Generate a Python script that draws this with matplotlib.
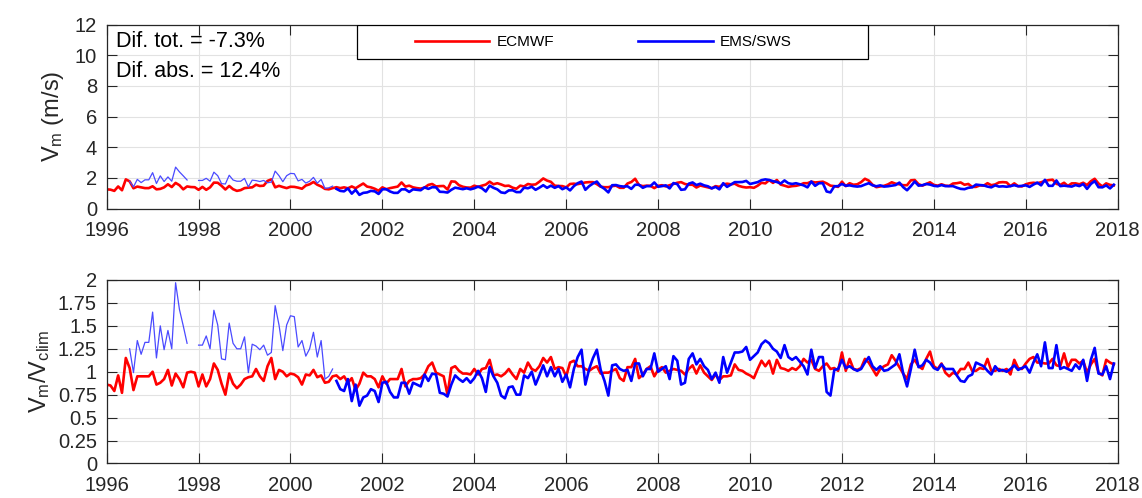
#!/usr/bin/env python3
import numpy as np
import matplotlib

matplotlib.use("Agg")
import matplotlib.pyplot as plt  # type: ignore
from matplotlib.patches import Rectangle  # type: ignore

plt.rcParams["font.family"] = ["Liberation Sans", "DejaVu Sans"]
plt.rcParams["mathtext.fontset"] = "custom"
plt.rcParams["mathtext.rm"] = "Liberation Sans"

nan = np.nan

# monthly series, Jan 1996 - Dec 2017 (one row per year)
ecmwf_vm = [
    1.25, 1.23, 1.15, 1.44, 1.19, 1.90, 1.77, 1.32, 1.43, 1.38, 1.33, 1.33,
    1.45, 1.25, 1.28, 1.38, 1.58, 1.40, 1.67, 1.52, 1.25, 1.44, 1.40, 1.39,
    1.22, 1.41, 1.22, 1.38, 1.69, 1.68, 1.48, 1.24, 1.47, 1.26, 1.15, 1.20,
    1.33, 1.36, 1.38, 1.55, 1.47, 1.49, 1.80, 1.90, 1.38, 1.48, 1.40, 1.33,
    1.42, 1.41, 1.36, 1.29, 1.50, 1.58, 1.73, 1.55, 1.44, 1.28, 1.25, 1.33,
    1.39, 1.33, 1.38, 1.32, 1.44, 1.32, 1.48, 1.63, 1.43, 1.38, 1.29, 1.16,
    1.38, 1.26, 1.33, 1.38, 1.43, 1.70, 1.43, 1.49, 1.38, 1.33, 1.30, 1.36,
    1.54, 1.60, 1.44, 1.46, 1.47, 1.24, 1.77, 1.75, 1.52, 1.42, 1.37, 1.36,
    1.49, 1.41, 1.49, 1.56, 1.75, 1.58, 1.65, 1.57, 1.47, 1.49, 1.36, 1.29,
    1.49, 1.44, 1.60, 1.55, 1.57, 1.75, 1.96, 1.82, 1.74, 1.49, 1.47, 1.46,
    1.38, 1.60, 1.62, 1.59, 1.64, 1.70, 1.72, 1.72, 1.59, 1.42, 1.39, 1.39,
    1.46, 1.49, 1.35, 1.35, 1.63, 1.73, 1.94, 1.53, 1.46, 1.49, 1.48, 1.33,
    1.48, 1.52, 1.44, 1.52, 1.60, 1.68, 1.72, 1.60, 1.55, 1.55, 1.37, 1.50,
    1.44, 1.38, 1.32, 1.46, 1.41, 1.57, 1.62, 1.58, 1.62, 1.48, 1.41, 1.37,
    1.39, 1.35, 1.49, 1.68, 1.64, 1.85, 1.67, 1.86, 1.56, 1.49, 1.41, 1.46,
    1.48, 1.54, 1.65, 1.65, 1.75, 1.70, 1.72, 1.75, 1.64, 1.49, 1.46, 1.41,
    1.75, 1.46, 1.65, 1.55, 1.58, 1.72, 1.94, 1.82, 1.55, 1.39, 1.44, 1.48,
    1.57, 1.71, 1.62, 1.58, 1.52, 1.52, 1.84, 1.86, 1.59, 1.49, 1.60, 1.71,
    1.54, 1.49, 1.58, 1.49, 1.47, 1.63, 1.65, 1.70, 1.55, 1.60, 1.41, 1.41,
    1.51, 1.49, 1.65, 1.52, 1.57, 1.70, 1.72, 1.70, 1.46, 1.64, 1.46, 1.44,
    1.58, 1.65, 1.68, 1.65, 1.71, 1.80, 1.85, 1.88, 1.61, 1.54, 1.68, 1.47,
    1.64, 1.64, 1.58, 1.68, 1.53, 1.78, 1.94, 1.63, 1.44, 1.64, 1.54, 1.51,
]

ems_vm = [
    nan, nan, nan, nan, nan, nan, 1.78, 1.41, 1.90, 1.69, 1.87, 1.87,
    2.34, 1.63, 2.13, 1.76, 2.06, 1.78, 2.70, 2.39, 2.13, 1.86, nan, nan,
    1.83, 1.83, 1.97, 1.78, 2.37, 2.14, 1.62, 1.60, 2.17, 1.86, 1.78, 1.78,
    1.96, 1.41, 1.85, 1.82, 1.76, 1.83, 1.68, 1.72, 2.44, 2.14, 1.75, 2.14,
    2.29, 2.27, 1.80, 1.90, 1.66, 1.78, 2.03, 1.65, 1.90, 1.31, 1.35, 1.46,
    1.28, 1.15, 1.12, 1.31, 0.97, 1.22, 0.89, 1.02, 1.05, 1.15, 1.12, 0.95,
    1.25, 1.26, 1.11, 1.02, 1.02, 1.25, 1.25, 1.08, 1.25, 1.22, 1.19, 1.38,
    1.28, 1.39, 1.38, 1.09, 1.08, 1.04, 1.22, 1.36, 1.31, 1.26, 1.32, 1.25,
    1.32, 1.43, 1.32, 1.11, 1.49, 1.35, 1.25, 1.05, 1.01, 1.18, 1.19, 1.07,
    1.07, 1.36, 1.32, 1.42, 1.22, 1.36, 1.52, 1.35, 1.49, 1.35, 1.46, 1.26,
    1.38, 1.18, 1.46, 1.65, 1.76, 1.22, 1.46, 1.63, 1.76, 1.45, 1.28, 1.05,
    1.52, 1.53, 1.46, 1.43, 1.45, 1.28, 1.55, 1.55, 1.35, 1.46, 1.46, 1.70,
    1.42, 1.46, 1.51, 1.31, 1.66, 1.59, 1.22, 1.25, 1.62, 1.70, 1.53, 1.62,
    1.51, 1.45, 1.31, 1.41, 1.25, 1.65, 1.41, 1.56, 1.72, 1.72, 1.73, 1.80,
    1.60, 1.66, 1.72, 1.85, 1.90, 1.86, 1.78, 1.73, 1.63, 1.83, 1.65, 1.60,
    1.65, 1.58, 1.51, 1.38, 1.76, 1.48, 1.65, 1.65, 1.11, 1.05, 1.45, 1.46,
    1.60, 1.48, 1.51, 1.46, 1.43, 1.46, 1.56, 1.65, 1.51, 1.45, 1.51, 1.43,
    1.45, 1.49, 1.53, 1.69, 1.39, 1.19, 1.46, 1.76, 1.49, 1.52, 1.60, 1.56,
    1.48, 1.45, 1.53, 1.46, 1.46, 1.46, 1.36, 1.28, 1.26, 1.35, 1.38, 1.56,
    1.53, 1.51, 1.43, 1.38, 1.51, 1.43, 1.45, 1.42, 1.46, 1.52, 1.45, 1.48,
    1.51, 1.41, 1.56, 1.69, 1.51, 1.87, 1.48, 1.48, 1.83, 1.46, 1.49, 1.46,
    1.43, 1.53, 1.46, 1.60, 1.28, 1.60, 1.79, 1.39, 1.38, 1.51, 1.31, 1.55,
]

ecmwf_ratio = [
    0.86, 0.85, 0.79, 0.96, 0.77, 1.15, 1.04, 0.80, 0.95, 0.95, 0.95, 0.95,
    1.00, 0.86, 0.88, 0.92, 1.02, 0.85, 0.98, 0.92, 0.83, 0.99, 1.00, 0.99,
    0.84, 0.97, 0.84, 0.92, 1.09, 1.02, 0.87, 0.75, 0.98, 0.87, 0.82, 0.86,
    0.92, 0.94, 0.95, 1.03, 0.95, 0.90, 1.06, 1.15, 0.92, 1.02, 1.00, 0.95,
    0.98, 0.97, 0.94, 0.86, 0.97, 0.96, 1.02, 0.94, 0.96, 0.88, 0.89, 0.95,
    0.96, 0.92, 0.95, 0.88, 0.93, 0.80, 0.87, 0.99, 0.95, 0.95, 0.92, 0.83,
    0.95, 0.87, 0.92, 0.92, 0.92, 1.03, 0.84, 0.90, 0.92, 0.92, 0.93, 0.97,
    1.06, 1.10, 0.99, 0.97, 0.95, 0.75, 1.04, 1.06, 1.01, 0.98, 0.98, 0.97,
    1.03, 0.97, 1.03, 1.04, 1.13, 0.96, 0.97, 0.95, 0.98, 1.03, 0.97, 0.92,
    1.03, 0.99, 1.10, 1.03, 1.01, 1.06, 1.15, 1.10, 1.16, 1.03, 1.05, 1.04,
    0.95, 1.10, 1.12, 1.06, 1.06, 1.03, 1.01, 1.04, 1.06, 0.98, 0.99, 0.99,
    1.01, 1.03, 0.93, 0.90, 1.05, 1.05, 1.14, 0.93, 0.97, 1.03, 1.06, 0.95,
    1.02, 1.05, 0.99, 1.01, 1.03, 1.02, 1.01, 0.97, 1.03, 1.07, 0.98, 1.07,
    0.99, 0.95, 0.91, 0.97, 0.91, 0.95, 0.95, 0.96, 1.08, 1.02, 1.01, 0.98,
    0.96, 0.93, 1.03, 1.12, 1.06, 1.12, 0.98, 1.13, 1.04, 1.03, 1.01, 1.04,
    1.02, 1.06, 1.14, 1.10, 1.13, 1.03, 1.01, 1.06, 1.09, 1.03, 1.04, 1.01,
    1.21, 1.01, 1.14, 1.03, 1.02, 1.04, 1.14, 1.10, 1.03, 0.96, 1.03, 1.06,
    1.08, 1.18, 1.12, 1.05, 0.98, 0.92, 1.08, 1.13, 1.06, 1.03, 1.14, 1.22,
    1.06, 1.03, 1.09, 0.99, 0.95, 0.99, 0.97, 1.03, 1.03, 1.10, 1.01, 1.01,
    1.04, 1.03, 1.14, 1.01, 1.01, 1.03, 1.01, 1.03, 0.97, 1.13, 1.04, 1.03,
    1.09, 1.14, 1.16, 1.10, 1.10, 1.09, 1.09, 1.14, 1.07, 1.06, 1.20, 1.05,
    1.13, 1.13, 1.09, 1.12, 0.99, 1.08, 1.14, 0.99, 0.96, 1.13, 1.10, 1.08,
]

ems_ratio = [
    nan, nan, nan, nan, nan, nan, 1.25, 0.99, 1.34, 1.19, 1.32, 1.32,
    1.65, 1.15, 1.50, 1.24, 1.45, 1.25, 1.97, 1.68, 1.50, 1.31, nan, nan,
    1.29, 1.29, 1.39, 1.25, 1.67, 1.51, 1.14, 1.13, 1.53, 1.31, 1.25, 1.25,
    1.38, 0.99, 1.30, 1.28, 1.24, 1.29, 1.18, 1.21, 1.72, 1.51, 1.23, 1.51,
    1.61, 1.60, 1.27, 1.34, 1.17, 1.25, 1.43, 1.16, 1.34, 0.92, 0.95, 1.03,
    0.90, 0.81, 0.79, 0.92, 0.68, 0.86, 0.63, 0.72, 0.74, 0.81, 0.79, 0.67,
    0.88, 0.89, 0.78, 0.72, 0.72, 0.88, 0.88, 0.76, 0.88, 0.86, 0.84, 0.97,
    0.90, 0.98, 0.97, 0.77, 0.76, 0.73, 0.86, 0.96, 0.92, 0.89, 0.93, 0.88,
    0.93, 1.01, 0.93, 0.78, 1.05, 0.95, 0.88, 0.74, 0.71, 0.83, 0.84, 0.75,
    0.75, 0.96, 0.93, 1.00, 0.86, 0.96, 1.07, 0.95, 1.05, 0.95, 1.03, 0.89,
    0.97, 0.83, 1.03, 1.16, 1.24, 0.86, 1.03, 1.15, 1.24, 1.02, 0.90, 0.74,
    1.07, 1.08, 1.03, 1.01, 1.02, 0.90, 1.09, 1.09, 0.95, 1.03, 1.03, 1.20,
    1.00, 1.03, 1.06, 0.92, 1.17, 1.12, 0.86, 0.88, 1.14, 1.20, 1.08, 1.14,
    1.06, 1.02, 0.92, 0.99, 0.88, 1.16, 0.99, 1.10, 1.21, 1.21, 1.22, 1.27,
    1.13, 1.17, 1.21, 1.30, 1.34, 1.31, 1.25, 1.22, 1.15, 1.29, 1.16, 1.13,
    1.16, 1.11, 1.06, 0.97, 1.24, 1.04, 1.16, 1.16, 0.78, 0.74, 1.02, 1.03,
    1.13, 1.04, 1.06, 1.03, 1.01, 1.03, 1.10, 1.16, 1.06, 1.02, 1.06, 1.01,
    1.02, 1.05, 1.08, 1.19, 0.98, 0.84, 1.03, 1.24, 1.05, 1.07, 1.13, 1.10,
    1.04, 1.02, 1.08, 1.03, 1.03, 1.03, 0.96, 0.90, 0.89, 0.95, 0.97, 1.10,
    1.08, 1.06, 1.01, 0.97, 1.06, 1.01, 1.02, 1.00, 1.03, 1.07, 1.02, 1.04,
    1.06, 0.99, 1.10, 1.19, 1.06, 1.32, 1.04, 1.04, 1.29, 1.03, 1.05, 1.03,
    1.01, 1.08, 1.03, 1.13, 0.90, 1.13, 1.26, 0.98, 0.97, 1.06, 0.92, 1.09,
]

first_year = 1996
last_year = 2018
old_network_months = 60  # EMS data before 2001 drawn as a thin line

year_ticks = list(range(1996, 2019, 2))
vm_ticks = [0, 2, 4, 6, 8, 10, 12]
ratio_ticks = [0, 0.25, 0.5, 0.75, 1, 1.25, 1.5, 1.75, 2]
ratio_labels = ["0", "0.25", "0.5", "0.75", "1", "1.25", "1.5", "1.75", "2"]

RED = "#ff0000"
BLUE = "#0000ff"
THIN_BLUE = "#4a4aff"
AX_COLOR = "#262626"
TICK_SIZE = 14.5


def style_axes(ax) -> None:
    ax.set_xlim(first_year, last_year)
    ax.set_xticks(year_ticks)
    ax.grid(True, color="#e2e2e2", linewidth=0.8)
    ax.set_axisbelow(True)
    ax.tick_params(
        direction="in", top=True, right=True, length=7, width=0.8,
        colors=AX_COLOR, labelsize=TICK_SIZE,
    )
    ax.tick_params(axis="x", pad=9)
    ax.tick_params(axis="y", pad=7)
    for spine in ax.spines.values():
        spine.set_color(AX_COLOR)
        spine.set_linewidth(0.9)


def draw(ax, red, blue) -> None:
    t = first_year + np.arange(len(red)) / 12.0
    blue = np.asarray(blue, dtype=float)
    k = old_network_months
    ax.plot(t, red, color=RED, lw=1.9, label="ECMWF")
    ax.plot(t[:k], blue[:k], color=THIN_BLUE, lw=0.9)
    ax.plot(t[k:], blue[k:], color=BLUE, lw=1.9, label="EMS/SWS")


def main() -> None:
    fig = plt.figure(figsize=(11.42, 4.98), dpi=100)
    ax1 = fig.add_axes([0.0934, 0.5813, 0.8853, 0.3695])
    ax2 = fig.add_axes([0.0934, 0.0693, 0.8853, 0.3685])

    draw(ax1, ecmwf_vm, ems_vm)
    style_axes(ax1)
    ax1.set_ylim(0, 12)
    ax1.set_yticks(vm_ticks)
    ax1.set_ylabel(r"$\mathregular{V_m}$ (m/s)", fontsize=17, color=AX_COLOR, labelpad=6)

    ax1.text(0.009, 0.905, "Dif. tot. = -7.3%", transform=ax1.transAxes,
             fontsize=15.5, va="center", ha="left", color="black")
    ax1.text(0.009, 0.742, "Dif. abs. = 12.4%", transform=ax1.transAxes,
             fontsize=15.5, va="center", ha="left", color="black")

    ax1.add_patch(Rectangle((0.2476, 0.8125), 0.5054, 0.1875, transform=ax1.transAxes,
                            facecolor="white", edgecolor="black", lw=0.9, zorder=5))
    leg = ax1.legend(loc="center", bbox_to_anchor=(0.491, 0.905), ncol=2,
                     frameon=False, fontsize=11, handlelength=4.9,
                     handletextpad=0.45, columnspacing=5.5, borderpad=0.0)
    leg.set_zorder(6)

    draw(ax2, ecmwf_ratio, ems_ratio)
    style_axes(ax2)
    ax2.set_ylim(0, 2)
    ax2.set_yticks(ratio_ticks)
    ax2.set_yticklabels(ratio_labels)
    ax2.set_ylabel(r"$\mathregular{V_m/V_{clim}}$", fontsize=17, color=AX_COLOR, labelpad=4)

    fig.savefig("out.png", dpi=100)


if __name__ == "__main__":
    main()
